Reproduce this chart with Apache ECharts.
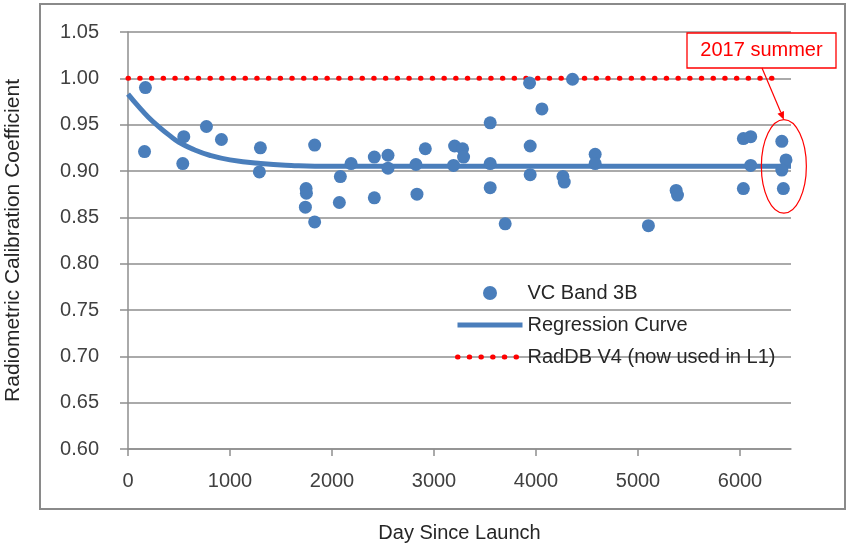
<!DOCTYPE html>
<html>
<head>
<meta charset="utf-8">
<script src="https://cdn.jsdelivr.net/npm/echarts@6/dist/echarts.min.js"></script>
<style>
  html, body { margin: 0; padding: 0; background: #fff; }
  #main { width: 846px; height: 543px; }
</style>
</head>
<body>
<div id="main"></div>
<script>
// VC Band 3B measurements (day since launch / coefficient)
var bandDays = [171, 162, 547, 537, 769, 916, 1298, 1288, 1746, 1749, 1739, 1830, 1830,
  2072, 2082, 2187, 2415, 2415, 2549, 2549, 2915, 2823, 2833, 3202, 3280, 3290, 3192,
  3551, 3551, 3551, 3698, 3937, 4058, 3943, 3943, 4264, 4277, 4358, 4580, 4580,
  5102, 5374, 5387, 6033, 6105, 6105, 6033, 6410, 6451, 6410, 6425];
var bandCoef = [0.990, 0.921, 0.937, 0.908, 0.948, 0.934, 0.925, 0.899, 0.881, 0.876, 0.861, 0.845, 0.928,
  0.866, 0.894, 0.908, 0.915, 0.871, 0.917, 0.903, 0.924, 0.907, 0.875, 0.927, 0.924, 0.915, 0.906,
  0.952, 0.908, 0.882, 0.843, 0.995, 0.967, 0.927, 0.896, 0.894, 0.888, 0.999, 0.918, 0.908,
  0.841, 0.879, 0.874, 0.935, 0.937, 0.906, 0.881, 0.932, 0.912, 0.901, 0.881];

// regression curve
var curveDays = [0, 100, 200, 300, 400, 500, 650, 800, 1000, 1300, 1600, 2000, 2500, 3000, 4000, 5000, 6000, 6500];
var curveCoef = [0.983, 0.970, 0.958, 0.948, 0.939, 0.931, 0.923, 0.917, 0.912, 0.908, 0.906, 0.905, 0.905,
  0.905, 0.905, 0.905, 0.905, 0.905];

// RadDB V4
var radDays = [0, 6370];
var radCoef = [1.00, 1.00];

var seriesNames = ['VC Band 3B', 'Regression Curve', 'RadDB V4 (now used in L1)'];
var noteText = '2017 summer';
var noteCenter = [6430, 0.905];

function pairs(xs, ys) {
  var res = [];
  for (var i = 0; i < xs.length; i++) {
    res.push([xs[i], ys[i]]);
  }
  return res;
}

var myChart = echarts.init(document.getElementById('main'));
var gray = '#8e8e8e';
var labelFont = 'Liberation Sans, Arial, sans-serif';

var option = {
  backgroundColor: '#fff',
  animation: false,
  grid: { left: 128, right: 55, top: 32, bottom: 94, outerBoundsMode: 'none' },
  legend: {
    data: [
      { name: seriesNames[0] },
      { name: seriesNames[1], itemStyle: { opacity: 0 } },
      { name: seriesNames[2], itemStyle: { opacity: 0 } }
    ],
    orient: 'vertical',
    left: 455,
    top: 283,
    padding: 0,
    itemWidth: 65,
    itemHeight: 14,
    itemGap: 12,
    lineStyle: { width: 'inherit' },
    textStyle: { fontSize: 20, lineHeight: 20, color: '#262626', fontFamily: labelFont }
  },
  xAxis: {
    type: 'value',
    min: 0,
    max: 6500,
    interval: 1000,
    name: 'Day Since Launch',
    nameLocation: 'middle',
    nameGap: 74,
    nameTextStyle: { fontSize: 20, color: '#262626', fontFamily: labelFont },
    axisLine: { show: true, lineStyle: { color: gray, width: 1.5 } },
    axisTick: { show: true, length: 7, lineStyle: { color: gray, width: 1.5 } },
    axisLabel: {
      margin: 22, fontSize: 20, color: '#404040', fontFamily: labelFont, showMaxLabel: false,
      formatter: function (v) { return String(v); }
    },
    splitLine: { show: false }
  },
  yAxis: {
    type: 'value',
    min: 0.6,
    max: 1.05,
    interval: 0.05,
    name: 'Radiometric Calibration Coefficient',
    nameLocation: 'middle',
    nameGap: 104,
    nameTextStyle: { fontSize: 21, color: '#262626', fontFamily: labelFont },
    axisLine: { show: true, lineStyle: { color: gray, width: 1.5 } },
    axisTick: { show: true, length: 8, lineStyle: { color: gray, width: 1.5 } },
    axisLabel: {
      margin: 29, fontSize: 20, color: '#404040', fontFamily: labelFont,
      formatter: function (v) { return v.toFixed(2); }
    },
    splitLine: { show: true, lineStyle: { color: gray, width: 1.5 } }
  },
  series: [
    {
      name: seriesNames[1],
      type: 'line',
      data: pairs(curveDays, curveCoef),
      smooth: true,
      symbol: 'none',
      z: 2,
      lineStyle: { color: '#4a7ebb', width: 5 },
      itemStyle: { color: '#4a7ebb' }
    },
    {
      name: seriesNames[2],
      type: 'line',
      data: pairs(radDays, radCoef),
      symbol: 'none',
      z: 3,
      lineStyle: { color: '#ff0000', width: 5, type: [0.5, 11.2], cap: 'round' },
      itemStyle: { color: '#ff0000' }
    },
    {
      name: seriesNames[0],
      type: 'scatter',
      data: pairs(bandDays, bandCoef),
      symbolSize: 13,
      z: 4,
      itemStyle: { color: '#4a7ebb', opacity: 1 }
    }
  ]
};

myChart.setOption(option);

// annotation: box, arrow and ellipse around the 2017 summer points
var c = myChart.convertToPixel({ gridIndex: 0 }, noteCenter);
var rx = 22.5, ry = 46.7;
var boxX = 687, boxY = 33, boxW = 149, boxH = 35;
var start = [boxX + 75, boxY + boxH];
var tip = [c[0], c[1] - ry];
var dx = tip[0] - start[0], dy = tip[1] - start[1];
var len = Math.sqrt(dx * dx + dy * dy);
var ux = dx / len, uy = dy / len;
var hl = 8, hw = 3.5;
var base = [tip[0] - ux * hl, tip[1] - uy * hl];

myChart.setOption({
  graphic: [
    {
      type: 'rect', silent: true, z: 0,
      shape: { x: 40, y: 4, width: 805, height: 505 },
      style: { fill: 'none', stroke: '#8a8a8a', lineWidth: 2 }
    },
    {
      type: 'rect', silent: true, z: 10,
      shape: { x: boxX, y: boxY, width: boxW, height: boxH },
      style: { fill: '#fff', stroke: '#ff0000', lineWidth: 1.3 }
    },
    {
      type: 'text', silent: true, z: 11,
      x: boxX + boxW / 2, y: boxY + boxH / 2,
      style: {
        text: noteText, fill: '#ff0000', fontSize: 20, fontFamily: labelFont,
        align: 'center', verticalAlign: 'middle'
      }
    },
    {
      type: 'line', silent: true, z: 10,
      shape: { x1: start[0], y1: start[1], x2: base[0], y2: base[1] },
      style: { stroke: '#ff0000', lineWidth: 1.2 }
    },
    {
      type: 'polygon', silent: true, z: 10,
      shape: {
        points: [tip, [base[0] - uy * hw, base[1] + ux * hw], [base[0] + uy * hw, base[1] - ux * hw]]
      },
      style: { fill: '#ff0000' }
    },
    {
      type: 'ellipse', silent: true, z: 10,
      shape: { cx: c[0], cy: c[1], rx: rx, ry: ry },
      style: { fill: 'none', stroke: '#ff0000', lineWidth: 1.2 }
    }
  ]
});

window.addEventListener('resize', function () {
  myChart.resize();
});
</script>
</body>
</html>
